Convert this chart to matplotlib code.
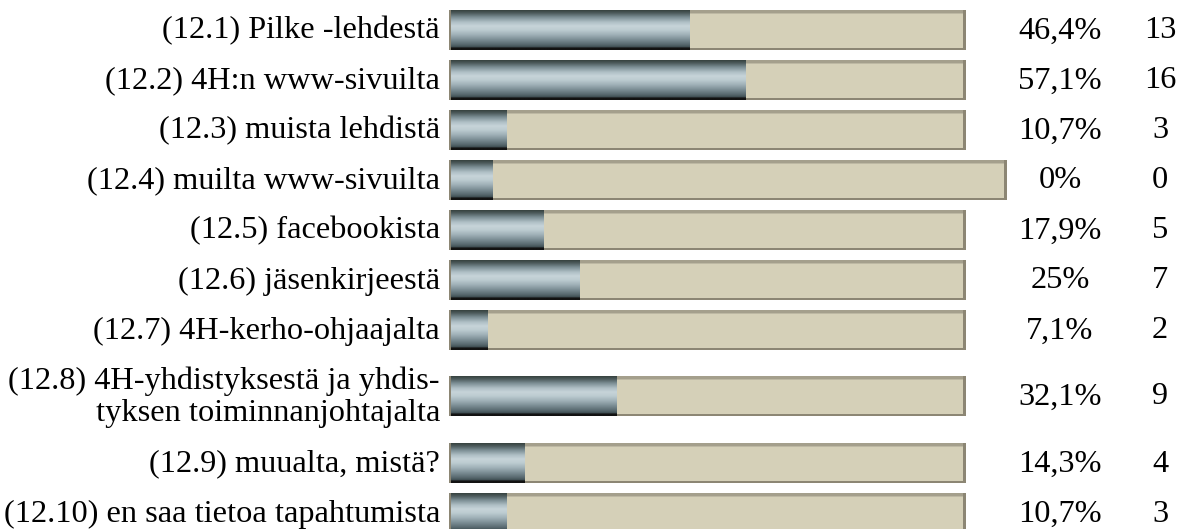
import numpy as np
import matplotlib
matplotlib.use("Agg")
import matplotlib.pyplot as plt
from matplotlib.patches import Rectangle
from matplotlib.colors import LinearSegmentedColormap

# ---- data ----
labels = [
    "(12.1) Pilke -lehdestä",
    "(12.2) 4H:n www-sivuilta",
    "(12.3) muista lehdistä",
    "(12.4) muilta www-sivuilta",
    "(12.5) facebookista",
    "(12.6) jäsenkirjeestä",
    "(12.7) 4H-kerho-ohjaajalta",
    "(12.8) 4H-yhdistyksestä ja yhdis-\ntyksen toiminnanjohtajalta",
    "(12.9) muualta, mistä?",
    "(12.10) en saa tietoa tapahtumista",
]
pcts = [46.4, 57.1, 10.7, 0.0, 17.9, 25.0, 7.1, 32.1, 14.3, 10.7]
pct_labels = ["46,4%", "57,1%", "10,7%", "0%", "17,9%", "25%", "7,1%", "32,1%", "14,3%", "10,7%"]
counts = [13, 16, 3, 0, 5, 7, 2, 9, 4, 3]

# ---- layout (pixels) ----
W, H = 1194, 529
bar_left_px = 451
px_per_pct = 5.15
row_y = [30, 80, 130, 180, 230, 280, 330, 396, 463, 513]
bar_h = 40
zero_stub = 8.0  # placeholder fill shown for zero values

fig = plt.figure(figsize=(W / 100, H / 100), dpi=100)
ax = fig.add_axes([0, 0, 1, 1])
ax.set_xlim(-bar_left_px / px_per_pct, (W - bar_left_px) / px_per_pct)
ax.set_ylim(H, 0)
ax.axis("off")

font = dict(family=["Liberation Serif", "DejaVu Serif"], fontsize=23.3, color="black")

stops = [
    (0.00, "#36423f"),
    (0.07, "#4c5a5b"),
    (0.18, "#7d9096"),
    (0.30, "#afbfc5"),
    (0.40, "#c7d4d9"),
    (0.50, "#bccbd0"),
    (0.62, "#9fb0b7"),
    (0.75, "#798b92"),
    (0.87, "#56676d"),
    (0.935, "#3d4b4f"),
    (0.945, "#121212"),
    (1.00, "#121212"),
]
cmap = LinearSegmentedColormap.from_list("metal", stops, N=256)
grad = np.linspace(0, 1, 200).reshape(-1, 1)

bg_face = "#d5d0b8"
bg_edge = "#8c8674"
px = 1 / px_per_pct

for lab, p, pl, c, y in zip(labels, pcts, pct_labels, counts, row_y):
    top = y - bar_h / 2
    bot = y + bar_h / 2
    fill_w = p if p > 0 else zero_stub
    bg_w = 100 if p > 0 else 100 + zero_stub
    # background track
    ax.add_patch(Rectangle((-1 * px, top), bg_w + 1 * px, bar_h, facecolor=bg_face,
                           edgecolor="none", zorder=1))
    ax.add_patch(Rectangle((-1 * px, top), bg_w + 1 * px, 2.5, facecolor="#a49f8c",
                           edgecolor="none", zorder=1.5))
    ax.add_patch(Rectangle((-1 * px, top + 2.5), bg_w + 1 * px, 1.5, facecolor="#bdb8a3",
                           edgecolor="none", zorder=1.5))
    ax.add_patch(Rectangle((-1 * px, bot - 2.5), bg_w + 1 * px, 2.5, facecolor=bg_edge,
                           edgecolor="none", zorder=1.5))
    ax.add_patch(Rectangle((-1.5 * px, top), 2 * px, bar_h, facecolor=bg_edge,
                           edgecolor="none", zorder=1.5))
    ax.add_patch(Rectangle((bg_w - 3 * px, top), 3 * px, bar_h, facecolor=bg_edge,
                           edgecolor="none", zorder=1.5))
    # metallic fill
    ax.imshow(grad, cmap=cmap, vmin=0, vmax=1, extent=(0, fill_w, bot, top),
              aspect="auto", interpolation="bilinear", zorder=2)
    # texts
    ax.text(-11 * px, y + 1, lab, ha="right", va="center", multialignment="right",
            linespacing=1.12, **font)
    ax.text((1060 - bar_left_px) * px, y + 1, pl, ha="center", va="center", **font)
    ax.text((1160 - bar_left_px) * px, y + 1, str(c), ha="center", va="center", **font)

ax.set_xlim(-bar_left_px / px_per_pct, (W - bar_left_px) / px_per_pct)
ax.set_ylim(H, 0)
fig.savefig("out.png", dpi=100, facecolor="white")
